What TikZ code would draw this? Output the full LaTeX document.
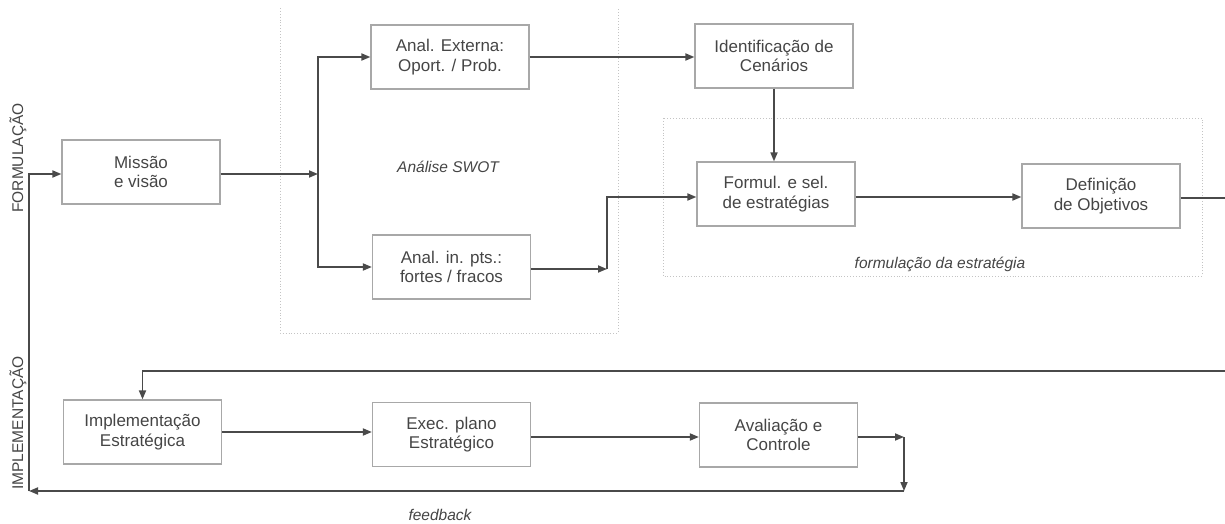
\documentclass[tikz,border=0pt]{standalone}
\usepackage{fontspec}
\setmainfont{Liberation Sans}
\usetikzlibrary{arrows.meta,calc}
\definecolor{boxline}{HTML}{A8A8A8}
\definecolor{conn}{HTML}{4A4A4A}
\definecolor{txt}{HTML}{454545}
\definecolor{dotc}{HTML}{C4C4C4}
\tikzset{
  stage/.style={draw=boxline, line width=1.2pt, minimum width=158pt, minimum height=64pt,
    inner sep=0pt, align=center, text=txt, font=\fontsize{17}{19.5}\selectfont},
  arr/.style={draw=conn, line width=1.7pt, -{Triangle[length=9pt,width=7pt]}},
  ln/.style={draw=conn, line width=1.7pt},
  region/.style={draw=dotc, line width=0.9pt, dotted},
  lbl/.style={text=txt, font=\fontsize{15.5}{18}\selectfont\itshape},
  side/.style={text=txt, font=\fontsize{15.5}{18}\selectfont, rotate=90}
}
\begin{document}
\begin{tikzpicture}[x=1pt,y=-1pt]
\useasboundingbox (0,0) rectangle (1225,524);
% regions
\draw[region] (280,8) -- (280,333) -- (618,333) -- (618,8);
\draw[region] (663,118) rectangle (1202,276);
\node[lbl] (swot) at (448,167) {Análise SWOT};
\node[lbl] (form) at (940,264) {formulação da estratégia};
\node[lbl] (fbl) at (440,515) {feedback};
\node[side] (formul8) at (18,158) {FORMULAÇÃO};
\node[side] (impl8) at (18,423) {IMPLEMENTAÇÃO};
% boxes
\node[stage] (missao) at (141,172) {Missão\\e visão};
\node[stage] (analext) at (450,57) {Anal. Externa:\\Oport. / Prob.};
\node[stage] (analin) at (451.5,267) {Anal. in. pts.:\\fortes / fracos};
\node[stage] (ident) at (774,56) {Identificação de\\Cenários};
\node[stage] (formul) at (776,194) {Formul. e sel.\\de estratégias};
\node[stage] (defin) at (1101,196) {Definição\\de Objetivos};
\node[stage] (impl) at (142.5,432) {Implementação\\Estratégica};
\node[stage] (exec) at (451.5,434.5) {Exec. plano\\Estratégico};
\node[stage] (aval) at (778.5,435) {Avaliação e\\Controle};
% coordinates
\coordinate (jn1) at (318,174);
\coordinate (jn2) at (607,269);
\coordinate (fy) at (0,197);
\coordinate (avR) at (904,437);
\coordinate (fbR) at (904,491);
\coordinate (fbL) at (29,491);
\coordinate (edge1) at (1225,198);
\coordinate (edge2) at (1225,371);
% connectors
\draw[arr] (missao.east |- jn1) -- (jn1);
\draw[arr] (jn1) |- (analext.west);
\draw[arr] (jn1) |- (analin.west);
\draw[arr] (analext.east) -- (analext.east -| ident.west);
\draw[arr] (analin.east |- jn2) -- (jn2);
\draw[arr] (jn2) |- (formul.west |- fy);
\draw[arr] (ident.south) -- (ident.south |- formul.north);
\draw[arr] (formul.east |- fy) -- (defin.west |- fy);
\draw[ln] (defin.east |- edge1) -- (edge1);
\draw[arr] (edge2) -| (impl.north);
\draw[arr] (impl.east) -- (impl.east -| exec.west);
\draw[arr] (exec.east |- avR) -- (aval.west |- avR);
\draw[arr] (aval.east |- avR) -- (avR);
\draw[arr] (avR) -- (fbR);
\draw[arr] (fbR) -- (fbL);
\draw[arr] (fbL) |- (missao.west |- jn1);
\end{tikzpicture}
\end{document}
